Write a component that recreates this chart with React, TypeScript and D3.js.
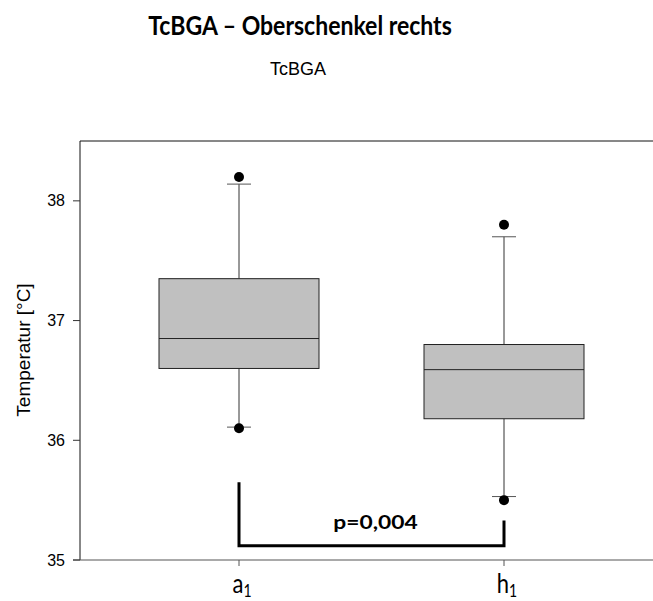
import React, { useEffect, useRef } from 'react'
import * as d3 from 'd3'

// groups and box statistics
const groups = ['a', 'h']
const q1 = [36.6, 36.18]
const median = [36.85, 36.59]
const q3 = [37.35, 36.8]
const whiskerLow = [36.11, 35.53]
const whiskerHigh = [38.14, 37.7]
const outliers = [[38.2, 36.1], [37.8, 35.5]]
const yTicks = [35, 36, 37, 38]
// significance bracket: left top, bottom, right top
const bracket = [35.65, 35.12, 35.33]
const pLabel = 'p=0,004'

const width = 653
const height = 601

function App() {
  const ref = useRef<SVGSVGElement>(null)

  useEffect(() => {
    const svg = d3.select(ref.current)
    svg.selectAll('*').remove()

    const x = d3.scalePoint<string>().domain(groups).range([80, 663]).padding(0.6)
    const y = d3.scaleLinear().domain([35, 38.5]).range([560, 141])
    const boxW = 160
    const capW = 24

    // titles
    svg.append('text')
      .attr('transform', 'translate(300,35) scale(0.885,1)')
      .attr('text-anchor', 'middle')
      .style('font-family', 'Lato, sans-serif')
      .style('font-weight', 'bold')
      .style('font-size', '26px')
      .text('TcBGA – Oberschenkel rechts')

    svg.append('text')
      .attr('x', 298).attr('y', 75)
      .attr('text-anchor', 'middle')
      .style('font-family', '"Liberation Sans", Arial, sans-serif')
      .style('font-size', '18px')
      .text('TcBGA')

    // frame: top + left, bottom axis
    svg.append('line').attr('x1', 80).attr('x2', width).attr('y1', 141).attr('y2', 141)
      .attr('stroke', '#111').attr('stroke-width', 1)
    svg.append('line').attr('x1', 80).attr('x2', 80).attr('y1', 141).attr('y2', 560)
      .attr('stroke', '#111').attr('stroke-width', 1)
    svg.append('line').attr('x1', 73).attr('x2', width).attr('y1', 560).attr('y2', 560)
      .attr('stroke', '#555').attr('stroke-width', 1)

    // y ticks
    const yt = svg.append('g')
    yt.selectAll('line').data(yTicks).join('line')
      .attr('x1', 73).attr('x2', 80)
      .attr('y1', d => y(d)).attr('y2', d => y(d))
      .attr('stroke', '#333')
    yt.selectAll('text').data(yTicks).join('text')
      .attr('x', 65).attr('y', d => y(d)).attr('dy', '0.35em')
      .attr('text-anchor', 'end')
      .style('font-family', '"Liberation Sans", Arial, sans-serif')
      .style('font-size', '16px')
      .text(d => d)

    svg.append('text')
      .attr('transform', 'translate(30,350) rotate(-90)')
      .attr('text-anchor', 'middle')
      .style('font-family', '"Liberation Sans", Arial, sans-serif')
      .style('font-size', '19px')
      .attr('fill', '#000')
      .text('Temperatur [°C]')

    // x ticks and labels
    const xt = svg.append('g')
    xt.selectAll('line').data(groups).join('line')
      .attr('x1', d => x(d)!).attr('x2', d => x(d)!)
      .attr('y1', 560).attr('y2', 566)
      .attr('stroke', '#555')
    const lab = xt.selectAll('text').data(groups).join('text')
      .attr('transform', d => `translate(${x(d)! + 3},593) scale(1,1.2)`)
      .attr('text-anchor', 'middle')
      .style('font-family', 'Lato, sans-serif')
      .style('font-size', '22px')
    lab.append('tspan').text(d => d)
    lab.append('tspan').attr('dy', 3).style('font-size', '14px').text('1')

    // boxes
    const g = svg.append('g')
    groups.forEach((k, i) => {
      const cx = x(k)!
      g.append('line').attr('x1', cx).attr('x2', cx)
        .attr('y1', y(q3[i])).attr('y2', y(whiskerHigh[i])).attr('stroke', '#333')
      g.append('line').attr('x1', cx).attr('x2', cx)
        .attr('y1', y(q1[i])).attr('y2', y(whiskerLow[i])).attr('stroke', '#333')
      ;[whiskerLow[i], whiskerHigh[i]].forEach(v => {
        g.append('line').attr('x1', cx - capW / 2).attr('x2', cx + capW / 2)
          .attr('y1', y(v)).attr('y2', y(v)).attr('stroke', '#555')
      })
      g.append('rect')
        .attr('x', cx - boxW / 2).attr('width', boxW)
        .attr('y', y(q3[i])).attr('height', y(q1[i]) - y(q3[i]))
        .attr('fill', '#c0c0c0').attr('stroke', '#222').attr('stroke-width', 1)
      g.append('line').attr('x1', cx - boxW / 2).attr('x2', cx + boxW / 2)
        .attr('y1', y(median[i])).attr('y2', y(median[i])).attr('stroke', '#222')
      g.selectAll(null).data(outliers[i]).join('circle')
        .attr('cx', cx).attr('cy', d => y(d)).attr('r', 5).attr('fill', '#000')
    })

    // significance bracket
    const x0 = x(groups[0])!
    const x1 = x(groups[1])!
    svg.append('path')
      .attr('d', d3.line()([[x0, y(bracket[0])], [x0, y(bracket[1])], [x1, y(bracket[1])], [x1, y(bracket[2])]]))
      .attr('fill', 'none').attr('stroke', '#000').attr('stroke-width', 3)
    svg.append('text')
      .attr('transform', `translate(${(x0 + x1) / 2 + 4},529) scale(1.2,1)`)
      .attr('text-anchor', 'middle')
      .style('font-family', 'Lato, sans-serif')
      .style('font-weight', 'bold')
      .style('font-size', '19px')
      .text(pLabel)
  }, [])

  return (
    <div style={{ position: 'absolute', left: 0, top: 0 }}>
      <svg ref={ref} width={width} height={height} style={{ display: 'block', background: '#fff' }}></svg>
    </div>
  )
}

export default App
